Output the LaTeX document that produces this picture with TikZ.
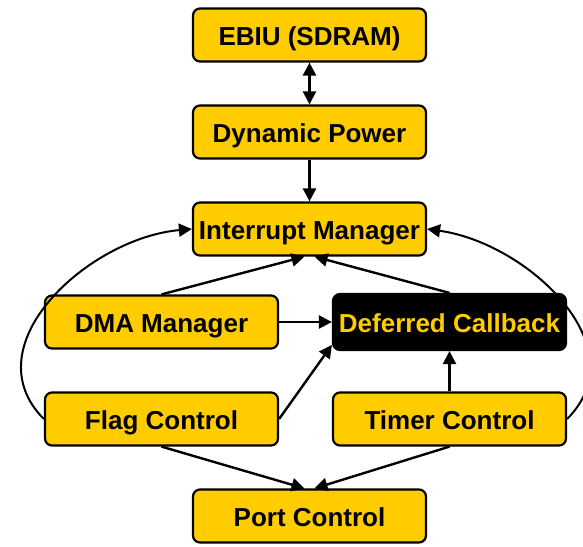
\documentclass[tikz,border=0pt]{standalone}
\usepackage{fontspec}
\setmainfont{Liberation Sans}
\usepackage{tikz}
\usetikzlibrary{arrows.meta}

\definecolor{gold}{HTML}{FFCC00}

\begin{document}
\begin{tikzpicture}[>={Triangle[length=13pt,width=13pt]}, node distance=97pt, x=1pt, y=1pt]
			\tikzstyle{block} = [draw, line width=2.2pt, rounded corners=7pt, fill=gold, minimum width=233pt, minimum height=53pt, inner sep=0pt, text height=21pt, text depth=0pt, font=\bfseries\fontsize{26}{30}\selectfont]
			\tikzstyle{dark} = [block, fill=black, text=gold, minimum height=56pt]

			\useasboundingbox (0,0) rectangle (583,-546);

			\path[->, line width=2.4pt]
			node[block] (ebiu) at (309.5,-35) {EBIU (SDRAM)}
			node[block, below of=ebiu] (dynpow) {Dynamic Power}
			node[block, below of=dynpow] (intmgr) {Interrupt Manager}
			node[block, below of=intmgr, xshift=-148pt, yshift=4pt] (dmamgr) {DMA Manager}
			node[dark, below of=intmgr, xshift=140pt, yshift=4pt] (defcb) {Deferred Callback}
			node[block, below of=dmamgr] (flagctl) {Flag Control}
			node[block, below of=defcb] (timerctl) {Timer Control}
			node[block, below of=flagctl, xshift=148pt] (portctl) {Port Control}

			(ebiu) edge[<->] (dynpow)
			(dynpow) edge (intmgr)
			(dmamgr.north) edge ([xshift=-5pt]intmgr.south)
			(defcb.north) edge ([xshift=5pt]intmgr.south)
			(dmamgr) edge (defcb)
			(flagctl.east) edge (defcb.191)
			(timerctl) edge (defcb)
			(flagctl.south) edge ([xshift=-5pt]portctl.north)
			(timerctl.south) edge ([xshift=5pt]portctl.north)
			(flagctl.west) edge[line width=2pt, out=135, in=185, looseness=1.1] (intmgr.west)
			(timerctl.east) edge[line width=2pt, out=45, in=-8, looseness=1.1] (intmgr.east)
			;
\end{tikzpicture}
\end{document}
